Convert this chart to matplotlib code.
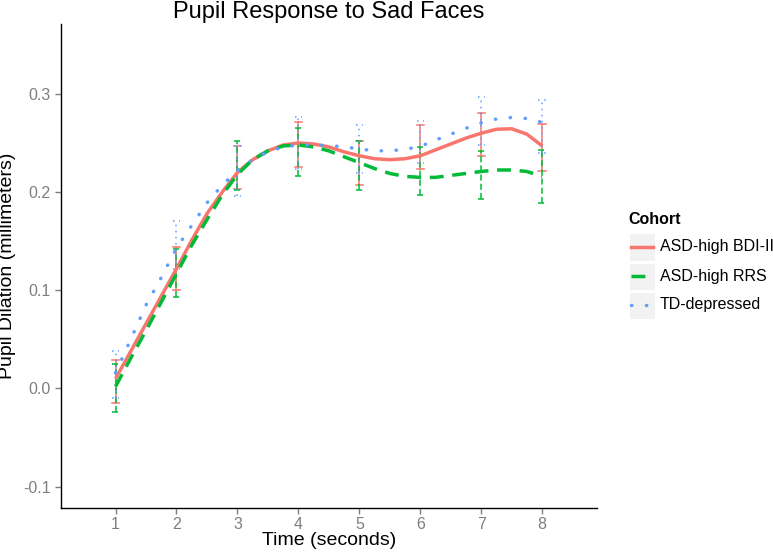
import numpy as np
import matplotlib
matplotlib.use("Agg")
import matplotlib.pyplot as plt
from matplotlib.lines import Line2D
from matplotlib.patches import Rectangle

plt.rcParams['font.family'] = ['Liberation Sans', 'DejaVu Sans']

# ---- data ----
cohorts = ["ASD-high BDI-II", "ASD-high RRS", "TD-depressed"]
colors = ["#F8766D", "#00BA38", "#619CFF"]

times = [1, 2, 3, 4, 5, 6, 7, 8]

# error bar limits (lower / upper) per cohort
bdi_lo = [-0.015, 0.100, 0.203, 0.226, 0.207, 0.224, 0.237, 0.222]
bdi_hi = [0.029, 0.144, 0.247, 0.271, 0.252, 0.268, 0.281, 0.269]
rrs_lo = [-0.024, 0.093, 0.202, 0.216, 0.202, 0.197, 0.193, 0.189]
rrs_hi = [0.025, 0.142, 0.252, 0.265, 0.252, 0.246, 0.242, 0.243]
td_lo = [-0.010, 0.122, 0.196, 0.224, 0.219, 0.230, 0.248, 0.240]
td_hi = [0.038, 0.171, 0.247, 0.276, 0.268, 0.272, 0.297, 0.294]

# smoothed curves, read every 0.25 s
curve_t = [1.0, 1.25, 1.5, 1.75, 2.0, 2.25, 2.5, 2.75, 3.0, 3.25, 3.5, 3.75,
           4.0, 4.25, 4.5, 4.75, 5.0, 5.25, 5.5, 5.75, 6.0, 6.25, 6.5, 6.75,
           7.0, 7.25, 7.5, 7.75, 8.0]
bdi_curve = [0.010, 0.038, 0.066, 0.094, 0.122, 0.151, 0.178, 0.200, 0.220,
             0.233, 0.242, 0.248, 0.250, 0.249, 0.246, 0.241, 0.237, 0.234,
             0.233, 0.234, 0.237, 0.243, 0.249, 0.255, 0.260, 0.264, 0.2645,
             0.259, 0.247]
rrs_curve = [0.002, 0.031, 0.059, 0.088, 0.117, 0.146, 0.172, 0.197, 0.218,
             0.233, 0.242, 0.247, 0.248, 0.246, 0.242, 0.236, 0.230, 0.224,
             0.219, 0.216, 0.215, 0.215, 0.217, 0.219, 0.221, 0.2225, 0.2225,
             0.221, 0.216]
td_curve = [0.016, 0.050, 0.085, 0.113, 0.143, 0.166, 0.189, 0.207, 0.222,
            0.233, 0.241, 0.246, 0.248, 0.248, 0.2475, 0.246, 0.244, 0.242,
            0.242, 0.2436, 0.2465, 0.253, 0.259, 0.265, 0.2705, 0.2745, 0.276,
            0.275, 0.271]

lows = [bdi_lo, rrs_lo, td_lo]
highs = [bdi_hi, rrs_hi, td_hi]
curves = [bdi_curve, rrs_curve, td_curve]

# ---- styles ----
line_styles = ["-", (0, (4, 2.5)), (0, (0.1, 4.2))]
bar_styles = ["-", (0, (4, 2)), (0, (1, 3))]
caps = ["butt", "butt", "round"]

fig = plt.figure(figsize=(7.73, 5.56), dpi=100)
ax = fig.add_axes([60.7 / 773, (556 - 507.7) / 556, (597 - 60.7) / 773, (507.7 - 24) / 556])

cap_w = 0.06
for lo, hi, col, bs in zip(lows, highs, colors, bar_styles):
    for t, l, h in zip(times, lo, hi):
        ax.plot([t, t], [l, h], color=col, lw=1.1, linestyle=bs, zorder=2)
        ax.plot([t - cap_w, t + cap_w], [l, l], color=col, lw=1.1, linestyle=bs, zorder=2)
        ax.plot([t - cap_w, t + cap_w], [h, h], color=col, lw=1.1, linestyle=bs, zorder=2)

for cv, col, ls, cs in zip(curves, colors, line_styles, caps):
    ax.plot(curve_t, cv, color=col, lw=2.5, linestyle=ls, solid_capstyle="butt",
            dash_capstyle=cs, zorder=3)

ax.set_xlim(0.1, 8.9)
ax.set_ylim(-0.1214, 0.3712)
ax.set_xticks(times)
ax.set_xticklabels([str(t) for t in times])
yt = [-0.1, 0.0, 0.1, 0.2, 0.3]
ax.set_yticks(yt)
ax.set_yticklabels(["%.1f" % v for v in yt])

for s in ["top", "right"]:
    ax.spines[s].set_visible(False)
for s in ["left", "bottom"]:
    ax.spines[s].set_color("black")
    ax.spines[s].set_linewidth(1.0)
ax.tick_params(axis="both", colors="#7F7F7F", labelsize=11.5, length=4, width=1.0,
               direction="out", pad=3)

ax.set_xlabel("Time (seconds)", fontsize=14, color="black", labelpad=0)
ax.set_ylabel("Pupil Dilation (millimeters)", fontsize=14, color="black", labelpad=5)
ax.set_title("Pupil Response to Sad Faces", fontsize=17, color="black", pad=4)

# ---- legend (ggplot style) ----
W, H = 773.0, 556.0
def fx(px):
    return px / W
def fy(py):
    return 1 - py / H

fig.text(fx(628), fy(220), "Cohort", fontsize=11.5, fontweight="bold",
         ha="left", va="center", color="black")
row_y = [247, 276, 305]
for name, col, ls, cs, yy in zip(cohorts, colors, line_styles, caps, row_y):
    fig.patches.append(Rectangle((fx(629), fy(yy + 13.5)), 26 / W, 27 / H,
                                 transform=fig.transFigure, facecolor="#F2F2F2",
                                 edgecolor="white", lw=0.8, zorder=1))
    fig.lines.append(Line2D([fx(631), fx(653)], [fy(yy), fy(yy)], color=col, lw=2.5,
                            linestyle=ls, dash_capstyle=cs,
                            transform=fig.transFigure, zorder=2))
    fig.text(fx(660), fy(yy), name, fontsize=11.5, ha="left", va="center", color="black")

fig.savefig("out.png", dpi=100)
